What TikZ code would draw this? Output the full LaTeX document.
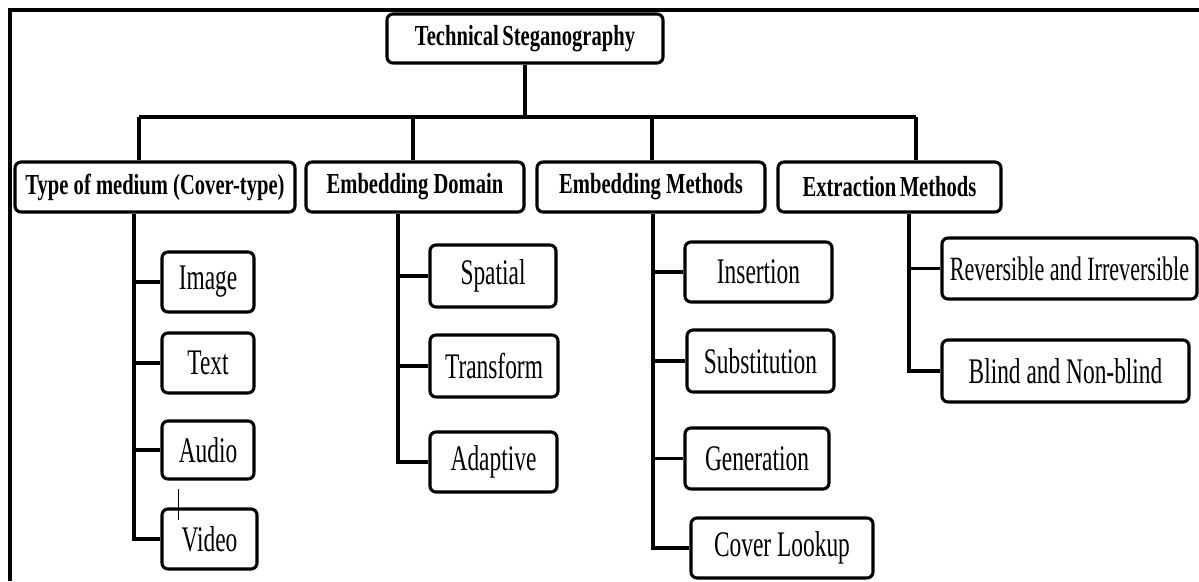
\documentclass[tikz,border=0pt]{standalone}
\usepackage{fontspec}
\setmainfont{Liberation Serif}
\newfontfamily\hdfont[FakeStretch=0.71]{Liberation Serif}
\newfontfamily\lffont[FakeStretch=0.65]{Liberation Serif}
\begin{document}
\begin{tikzpicture}[x=1pt,y=-1pt,
  box/.style={draw, line width=3.1pt, rounded corners=6pt, inner sep=0pt, align=center},
  hd/.style={box, minimum height=50pt, font=\hdfont\bfseries\fontsize{29}{33}\selectfont},
  leaf/.style={box, font=\lffont\fontsize{36}{42}\selectfont},
  link/.style={line width=3.1pt},
  thinlink/.style={line width=0.8pt},
  frameline/.style={line width=3.6pt}]
\useasboundingbox (0,0) rectangle (1199,581);
% outer frame
\coordinate (fTL) at (10,10);
\coordinate (fTR) at (1199,10);
\coordinate (fBL) at (10,581);
\draw[frameline] (fBL) -- (fTL) -- (fTR);

% root
\node[hd, minimum width=276pt, minimum height=49pt] (root) at (525,38.5) {Technical\hspace{0.12em}Steganography};

% level 1
\node[hd, minimum width=280pt] (type) at (155,187) {Type of medium (Cover-type)};
\node[hd, minimum width=218pt] (domain) at (415,187) {Embedding Domain};
\node[hd, minimum width=228pt] (methods) at (651,187) {Embedding Methods};
\node[hd, minimum width=223pt] (extract) at (889.5,187) {Extraction\hspace{0.12em}Methods};

% bus
\coordinate (barL) at (139,117);
\coordinate (barD) at (413,117);
\coordinate (barM) at (652,117);
\coordinate (barR) at (916,117);
\draw[link] (root.south) -- (root.south |- barL);
\draw[link] (barL) -- (barR);
\draw[link] (barL) -- (barL |- type.north);
\draw[link] (barD) -- (barD |- domain.north);
\draw[link] (barM) -- (barM |- methods.north);
\draw[link] (barR) -- (barR |- extract.north);

% cover types
\node[leaf, minimum width=92pt, minimum height=60pt] (image) at (208,282) {Image};
\node[leaf, minimum width=92pt, minimum height=60pt] (text) at (208,363) {Text};
\node[leaf, minimum width=92pt, minimum height=58pt] (audio) at (208,450) {Audio};
\node[leaf, minimum width=95pt, minimum height=60pt] (video) at (209.5,539) {Video};
\coordinate (tv) at (134,0);
\draw[link] (tv |- type.south) |- (video.west);
\draw[link] (tv |- image) -- (image.west);
\draw[link] (tv |- text) -- (text.west);
\draw[link] (tv |- audio) -- (audio.west);
\coordinate (strayA) at (178,489);
\coordinate (strayB) at (178,520);
\draw[thinlink] (strayA) -- (strayB);

% embedding domain
\node[leaf, minimum width=126pt, minimum height=62pt] (spatial) at (493,276) {Spatial};
\node[leaf, minimum width=128pt, minimum height=62pt] (transform) at (494,366) {Transform};
\node[leaf, minimum width=127pt, minimum height=60pt] (adaptive) at (493.5,462) {Adaptive};
\coordinate (dv) at (398,0);
\draw[link] (dv |- domain.south) |- (adaptive.west);
\draw[link] (dv |- spatial) -- (spatial.west);
\draw[link] (dv |- transform) -- (transform.west);

% embedding methods
\node[leaf, minimum width=147pt, minimum height=60pt] (insertion) at (758.5,272) {Insertion};
\node[leaf, minimum width=147pt, minimum height=62pt] (substitution) at (760.5,361) {Substitution};
\node[leaf, minimum width=144pt, minimum height=61pt] (generation) at (757,458.5) {Generation};
\node[leaf, minimum width=182pt, minimum height=60pt] (lookup) at (782,548) {Cover Lookup};
\coordinate (mv) at (653,0);
\draw[link] (mv |- methods.south) |- (lookup.west);
\draw[link] (mv |- insertion) -- (insertion.west);
\draw[link] (mv |- substitution) -- (substitution.west);
\draw[link] (mv |- generation) -- (generation.west);

% extraction methods
\node[leaf, minimum width=255pt, minimum height=61pt, font=\lffont\fontsize{34}{40}\selectfont] (reversible) at (1069.5,268.5) {Reversible and Irreversible};
\node[leaf, minimum width=247pt, minimum height=62pt] (blind) at (1065.5,371) {Blind and Non-blind};
\coordinate (xv) at (909,0);
\draw[link] (xv |- extract.south) |- (blind.west);
\draw[link] (xv |- reversible) -- (reversible.west);
\end{tikzpicture}
\end{document}
